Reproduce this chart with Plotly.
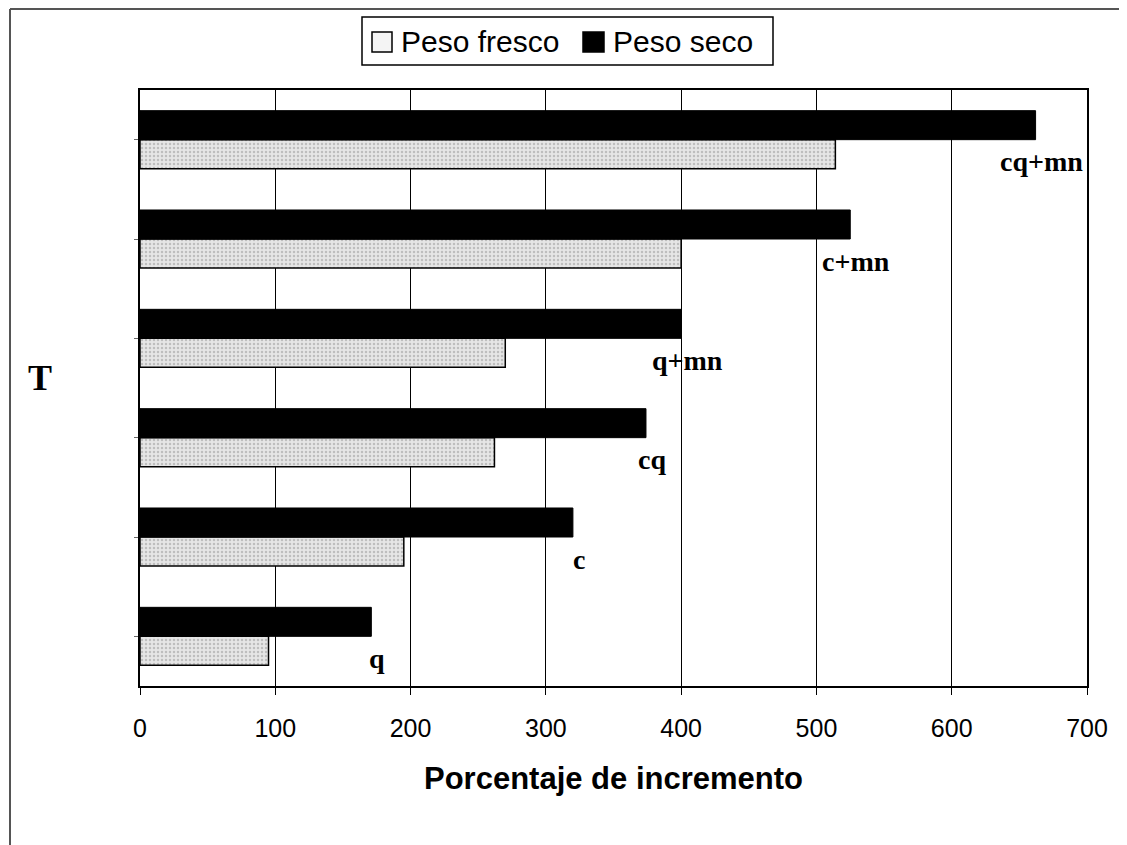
import plotly.graph_objects as go

categories = ["q", "c", "cq", "q+mn", "c+mn", "cq+mn"]
peso_fresco = [95, 195, 262, 270, 400, 514]
peso_seco = [171, 320, 374, 400, 525, 662]
x_ticks = [0, 100, 200, 300, 400, 500, 600, 700]
series_names = ["Peso fresco", "Peso seco"]

OFF = 8  # page body margin
W, H = 1127 - OFF, 845 - OFF
L, T = 140 - OFF, 90 - OFF
pw, ph = 947, 596
R, B = W - L - pw, H - T - ph


def px(x):
    return (x - OFF - L) / pw


def py(y):
    return (T + ph - (y - OFF)) / ph


fresco_marker = dict(color="#e4e4e4", line=dict(color="black", width=1.5),
                     pattern=dict(shape=".", fgcolor="#959595", bgcolor="#e6e6e6", size=4, solidity=0.3))

fig = go.Figure()
fig.add_trace(go.Bar(y=categories, x=peso_fresco, orientation="h", name=series_names[0],
                     marker=fresco_marker, showlegend=False))
fig.add_trace(go.Bar(y=categories, x=peso_seco, orientation="h", name=series_names[1],
                     marker=dict(color="black", line=dict(color="black", width=1)), showlegend=False))

for cat, v in zip(categories, peso_seco):
    fig.add_annotation(x=v, y=cat, text="<b>%s</b>" % cat, showarrow=False,
                       xanchor="center", yanchor="middle", xshift=6, yshift=-22,
                       font=dict(family="Liberation Serif", size=28, color="black"))

fig.add_annotation(xref="paper", yref="paper", x=px(40), y=py(378),
                   text="<b>T</b>", showarrow=False, xanchor="center", yanchor="middle",
                   font=dict(family="Liberation Serif", size=36, color="black"))

# custom legend
fig.add_shape(type="rect", xref="paper", yref="paper", x0=px(362), x1=px(773), y0=py(65), y1=py(17),
              line=dict(color="black", width=1.5), fillcolor="white", layer="above")
fig.add_shape(type="rect", xref="paper", yref="paper", x0=px(372), x1=px(392), y0=py(52), y1=py(32),
              line=dict(color="black", width=1.5), fillcolor="#f4f4f4", layer="above")
fig.add_shape(type="rect", xref="paper", yref="paper", x0=px(583), x1=px(604), y0=py(52), y1=py(32),
              line=dict(color="black", width=1.5), fillcolor="black", layer="above")
fig.add_annotation(xref="paper", yref="paper", x=px(399), y=py(41), text=series_names[0],
                   showarrow=False, xanchor="left", yanchor="middle",
                   font=dict(family="Liberation Sans", size=30, color="black"))
fig.add_annotation(xref="paper", yref="paper", x=px(611), y=py(41), text=series_names[1],
                   showarrow=False, xanchor="left", yanchor="middle",
                   font=dict(family="Liberation Sans", size=30, color="black"))

# outer frame (left and top edges)
fig.add_shape(type="line", xref="paper", yref="paper", x0=px(10), x1=px(10),
              y0=py(860), y1=py(9), line=dict(color="#555", width=2))
fig.add_shape(type="line", xref="paper", yref="paper", x0=px(10), x1=px(1140),
              y0=py(9), y1=py(9), line=dict(color="#555", width=2))

fig.update_layout(
    width=W, height=H,
    margin=dict(l=L, r=R, t=T, b=B),
    paper_bgcolor="white", plot_bgcolor="white",
    barmode="group", bargap=0.416, bargroupgap=0,
    font=dict(family="Liberation Sans", color="black"),
    showlegend=False,
    xaxis=dict(range=[0, 700], tickvals=x_ticks, ticktext=[str(t) for t in x_ticks],
               showgrid=True, gridcolor="black", gridwidth=1,
               showline=True, linecolor="black", linewidth=2, mirror=True,
               ticks="outside", ticklen=7, tickcolor="black",
               ticklabelstandoff=12,
               tickfont=dict(family="Liberation Sans", size=25, color="black"),
               title=dict(text="<b>Porcentaje de incremento</b>", standoff=26,
                          font=dict(family="Liberation Sans", size=31, color="black")),
               zeroline=False, fixedrange=True),
    yaxis=dict(showticklabels=False, showline=True, linecolor="black", linewidth=2,
               mirror=True, ticks="outside", ticklen=4, tickcolor="#666",
               showgrid=False, fixedrange=True),
)

fig.write_html("out.html")
